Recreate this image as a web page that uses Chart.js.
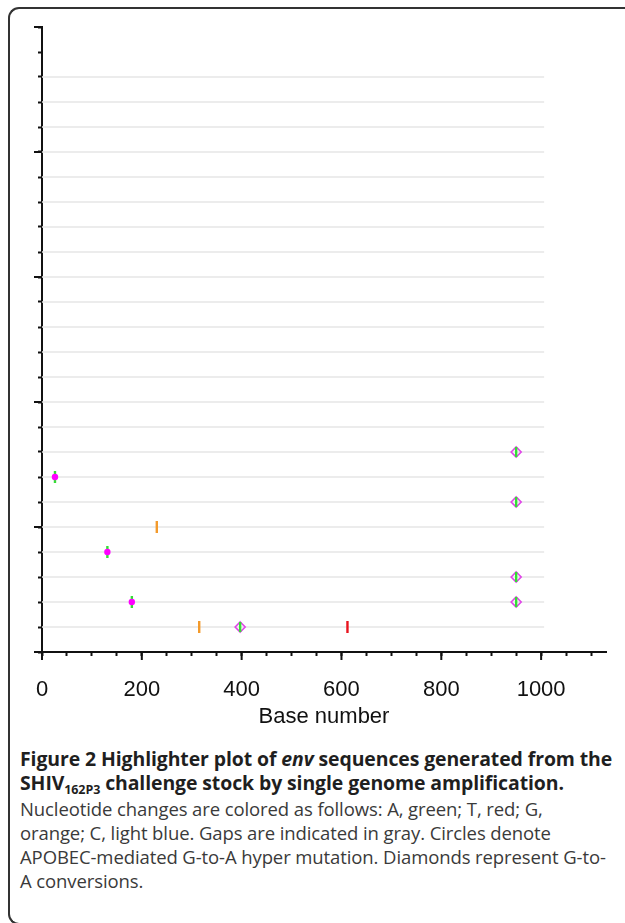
<!DOCTYPE html>
<html>
<head>
<meta charset="utf-8">
<script src="https://cdn.jsdelivr.net/npm/chart.js@4.4.1/dist/chart.umd.min.js"></script>
<style>
  html, body { margin: 0; padding: 0; background: #fff; overflow: hidden; }
  body { width: 625px; height: 923px; position: relative; }
  #frame {
    position: absolute; left: 8px; top: 7px; width: 1000px; height: 918px;
    border: 2px solid #333; border-right: none;
    border-radius: 11px 0 0 11px; box-sizing: border-box;
  }
  #plot { position: absolute; left: 0; top: 0; }
  #caption {
    position: absolute; left: 20px; top: 747px; white-space: nowrap;
    font-family: 'Open Sans', sans-serif; line-height: 24px;
  }
  #caption .title { font-weight: bold; font-size: 19.45px; letter-spacing: -0.1px; color: #1f1f1f; }
  #caption .title sub { font-size: 12.5px; line-height: 0; vertical-align: -4px; }
  #caption .body { font-size: 18.5px; letter-spacing: -0.1px; color: #3a3a3a; margin-top: 2px; }
</style>
</head>
<body>
<div id="frame"></div>
<canvas id="plot" width="625" height="740"></canvas>
<div id="caption">
  <div class="title">Figure 2 Highlighter plot of <i>env</i> sequences generated from the<br>SHIV<sub>162P3</sub> challenge stock by single genome amplification.</div>
  <div class="body">Nucleotide changes are colored as follows: A, green; T, red; G,<br>orange; C, light blue. Gaps are indicated in gray. Circles denote<br>APOBEC-mediated G-to-A hyper mutation. Diamonds represent G-to-<br>A conversions.</div>
</div>
<script>
// --- datos del gráfico ---
const rowCount = 23;      // secuencias (líneas guía)
const yMax = 25;
const xMax = 1130;
const seqLength = 1006;   // largo de las líneas guía
const xTickLabels = [0, 200, 400, 600, 800, 1000];

// hipermutación APOBEC (círculos + A verde)
const hyperBases = [26, 131, 180];
const hyperRows = [7, 4, 2];
// conversiones G-to-A (diamantes + A verde)
const convBases = [397, 950, 950, 950, 950];
const convRows = [1, 8, 6, 3, 2];
// cambios G (naranja) y T (rojo)
const gBases = [230, 315];
const gRows = [5, 1];
const tBases = [612];
const tRows = [1];

const axisColor = '#111';
const labelFont = { family: "'Liberation Sans', Arial, sans-serif", size: 22 };

function pts(bases, rows) {
    return bases.map((b, i) => ({ x: b, y: rows[i] }));
}

// marca vertical (pointStyle line rotado)
function tickSet(data, color, r, order) {
    return {
        data: data,
        pointStyle: 'line',
        pointRotation: 90,
        pointRadius: r,
        pointBorderColor: color,
        pointBorderWidth: 2.4,
        order: order
    };
}

// líneas guía por secuencia, hasta el largo de la secuencia
const rowLines = {
    id: 'rowLines',
    beforeDatasetsDraw(chart) {
        const { ctx, scales: { x, y } } = chart;
        ctx.save();
        ctx.strokeStyle = '#e6e6e6';
        ctx.lineWidth = 1.5;
        for (let r = 1; r <= rowCount; r++) {
            const py = y.getPixelForValue(r);
            ctx.beginPath();
            ctx.moveTo(x.getPixelForValue(0), py);
            ctx.lineTo(x.getPixelForValue(seqLength), py);
            ctx.stroke();
        }
        ctx.restore();
    }
};

// marcas mayores más largas
const majorTicks = {
    id: 'majorTicks',
    afterDraw(chart) {
        const { ctx, scales: { x, y } } = chart;
        ctx.save();
        ctx.strokeStyle = axisColor;
        ctx.lineWidth = 2;
        for (let v = 0; v <= yMax; v += 5) {
            const py = y.getPixelForValue(v);
            ctx.beginPath();
            ctx.moveTo(y.right - 8, py);
            ctx.lineTo(y.right, py);
            ctx.stroke();
        }
        xTickLabels.forEach(v => {
            const px = x.getPixelForValue(v);
            ctx.beginPath();
            ctx.moveTo(px, x.top);
            ctx.lineTo(px, x.top + 8);
            ctx.stroke();
        });
        ctx.restore();
    }
};

new Chart(document.getElementById('plot'), {
    type: 'scatter',
    data: {
        datasets: [
            { // círculos
                data: pts(hyperBases, hyperRows),
                pointStyle: 'circle',
                pointRadius: 3.2,
                pointBackgroundColor: '#ff00ff',
                pointBorderWidth: 0,
                order: 1
            },
            tickSet(pts(hyperBases, hyperRows), '#33e033', 6, 3),
            tickSet(pts(convBases, convRows), '#33e033', 5, 1),
            { // diamantes
                data: pts(convBases, convRows),
                pointStyle: 'rectRot',
                pointRadius: 5,
                pointBackgroundColor: 'rgba(0,0,0,0)',
                pointBorderColor: '#e046e8',
                pointBorderWidth: 1.6,
                order: 2
            },
            tickSet(pts(gBases, gRows), '#f39a2b', 6, 3),
            tickSet(pts(tBases, tRows), '#e8141e', 6, 3)
        ]
    },
    options: {
        responsive: false,
        animation: false,
        events: [],
        layout: { padding: { left: 34, top: 27, right: 19, bottom: 0 } },
        plugins: { legend: { display: false }, tooltip: { enabled: false } },
        scales: {
            x: {
                type: 'linear',
                min: 0,
                max: xMax,
                border: { color: axisColor, width: 2 },
                grid: { drawOnChartArea: false, tickLength: 4, tickColor: axisColor, tickWidth: 2 },
                ticks: {
                    stepSize: 50,
                    includeBounds: false,
                    autoSkip: false,
                    maxRotation: 0,
                    padding: 21,
                    color: axisColor,
                    font: labelFont,
                    callback: v => xTickLabels.includes(v) ? String(v) : ''
                },
                title: {
                    display: true,
                    text: 'Base number',
                    color: axisColor,
                    font: labelFont,
                    padding: { top: 0, bottom: 10 }
                },
                afterFit: s => { s.height = 88; }
            },
            y: {
                type: 'linear',
                min: 0,
                max: yMax,
                border: { color: axisColor, width: 2 },
                grid: { drawOnChartArea: false, tickLength: 4, tickColor: axisColor, tickWidth: 2 },
                ticks: { display: false, stepSize: 1, autoSkip: false },
                afterFit: s => { s.width = 8; }
            }
        }
    },
    plugins: [rowLines, majorTicks]
});
</script>
</body>
</html>
